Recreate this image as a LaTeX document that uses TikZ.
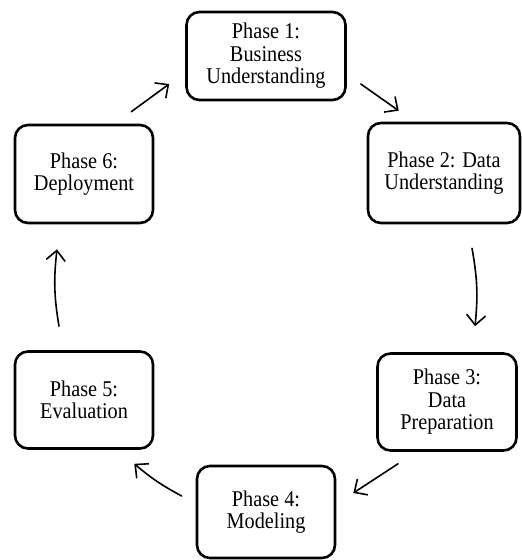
\documentclass[tikz,border=0pt]{standalone}
\usepackage{fontspec}
\setmainfont{Liberation Serif}[FakeStretch=0.9]
\usepackage{tikz}
\usetikzlibrary{arrows.meta}
\tikzset{>={Straight Barb[length=10pt,width=19pt]}}
\tikzset{phase/.style={draw, line width=2.6pt, rounded corners=13pt, align=center, inner sep=0pt,
		minimum width=138pt, minimum height=97pt, font=\fontsize{22.5}{22.5}\selectfont}}
\tikzset{flow/.style={->, line width=1.6pt, line cap=round}}

\begin{document}
\begin{tikzpicture}[x=1pt, y=-1pt]
				\useasboundingbox (0,0) rectangle (522,560);
				\node [phase, minimum width=159pt, minimum height=88pt] (p1) at (266,56) {Phase 1:\\Business\\Understanding};
				\node [phase, minimum width=152pt, minimum height=100pt] (p2) at (444,173) {Phase 2: Data\\Understanding};
				\node [phase, minimum width=139pt] (p3) at (447,402) {Phase 3:\\Data\\Preparation};
				\node [phase, minimum height=92pt] (p4) at (266,512) {Phase 4:\\Modeling};
				\node [phase] (p5) at (84,400) {Phase 5:\\Evaluation};
				\node [phase, minimum height=98pt] (p6) at (84,174) {Phase 6:\\Deployment};
				\draw [flow] ([xshift=14pt, yshift=-28pt]p1.east) -- ([xshift=32pt, yshift=11pt]p2.north west);
				\draw [flow] ([xshift=28pt, yshift=-24pt]p2.south) to[bend left=8] ([xshift=28pt, yshift=26pt]p3.north);
				\draw [flow] ([xshift=-49pt, yshift=-12pt]p3.south) -- ([xshift=17pt, yshift=19pt]p4.east);
				\draw [flow] ([xshift=-14pt, yshift=16pt]p4.west) to[bend left=6] ([xshift=-20pt, yshift=-14pt]p5.south east);
				\draw [flow] ([xshift=-25pt, yshift=24pt]p5.north) to[bend left=8] ([xshift=-27pt, yshift=-25pt]p6.south);
				\draw [flow] ([xshift=-23pt, yshift=12pt]p6.north east) -- ([xshift=-16pt, yshift=-28pt]p1.west);
			\end{tikzpicture}
\end{document}
